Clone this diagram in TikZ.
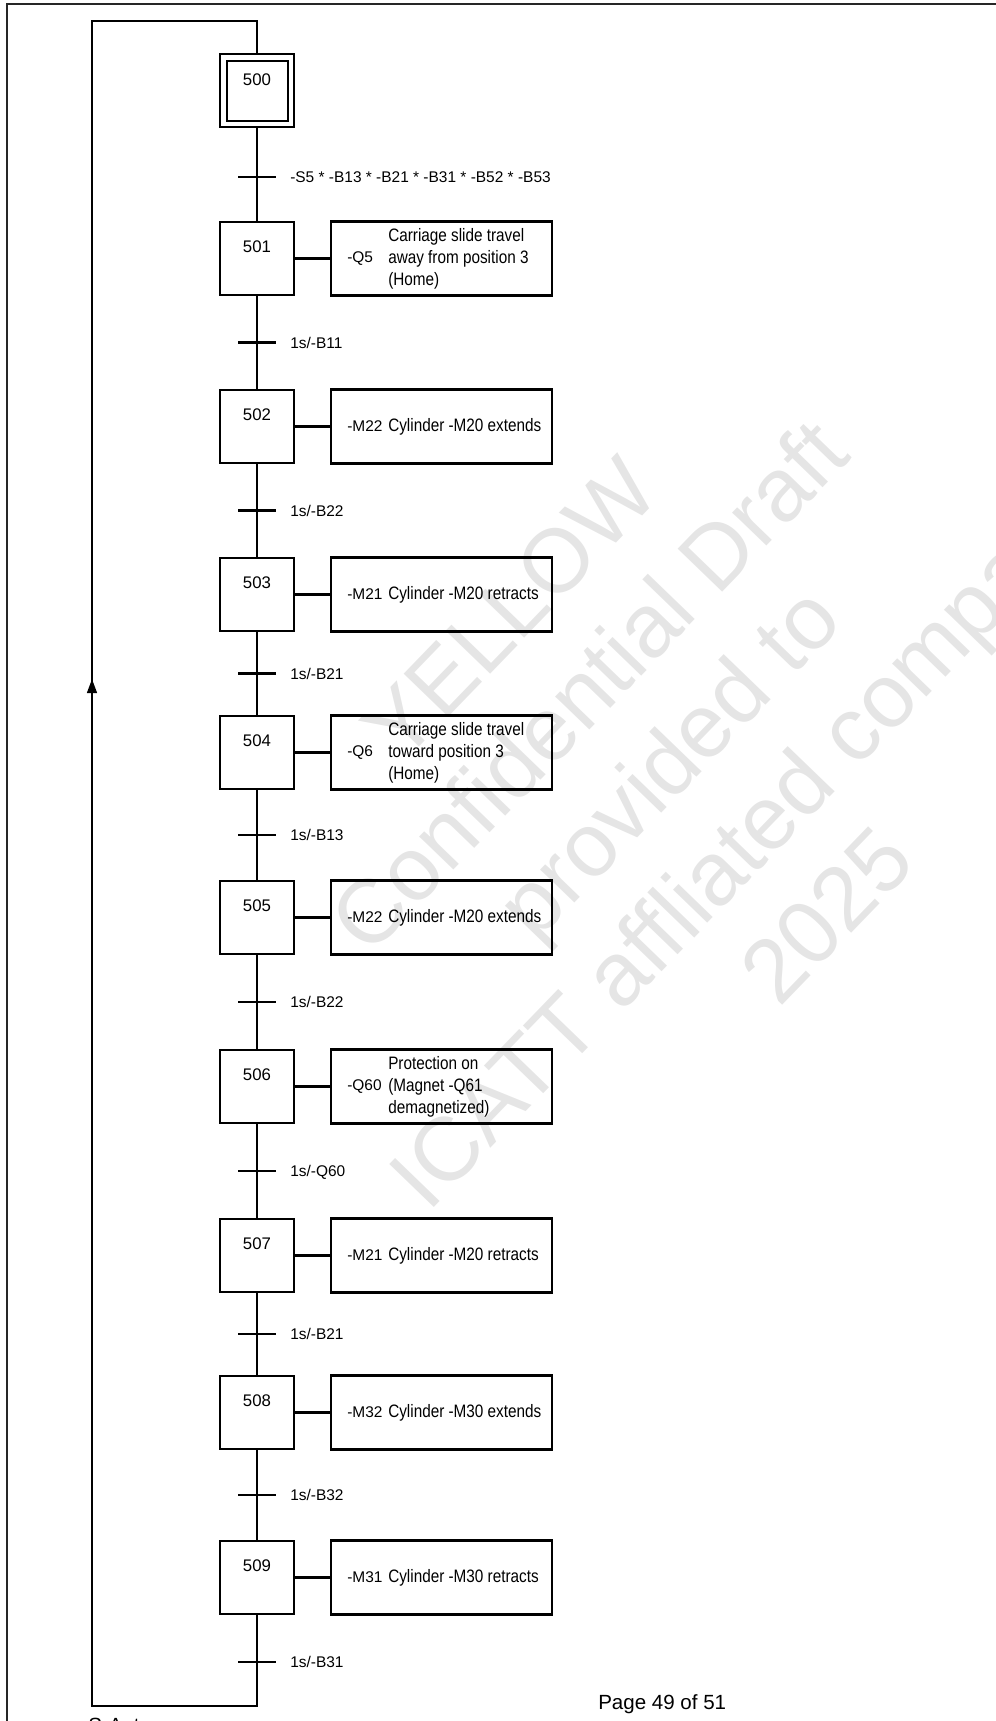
\documentclass[tikz,border=0pt]{standalone}
\usepackage{fontspec}
\setmainfont{Liberation Sans}
\newfontfamily\descfont[FakeStretch=0.85]{Liberation Sans}
\usetikzlibrary{arrows.meta}
\tikzset{
  ln/.style={line width=1.6pt},
  stepbox/.style={draw, line width=1.6pt, minimum width=55.5pt, minimum height=54.75pt, inner sep=0pt},
  initbox/.style={draw, line width=1.5pt, minimum width=45.75pt, minimum height=45pt, inner sep=0pt},
  actbox/.style={draw, line width=1.6pt, minimum width=165.75pt, minimum height=55.5pt, inner sep=0pt},
  numlbl/.style={font=\fontsize{12.6pt}{15pt}\selectfont, inner sep=0pt},
  trlbl/.style={font=\fontsize{11.6pt}{14pt}\selectfont, inner sep=0pt, anchor=base west},
  qlbl/.style={font=\fontsize{11.6pt}{14pt}\selectfont, inner sep=0pt, anchor=west},
  desc/.style={font=\descfont\fontsize{13.5pt}{16.5pt}\selectfont, inner sep=0pt, anchor=west, align=left},
  bar/.style={line width=1.6pt},
  wmark/.style={rotate=46, text=black!10, align=center, font=\fontsize{67.5pt}{82.5pt}\selectfont, inner sep=0pt},
}
\begin{document}
\begin{tikzpicture}[x=0.75pt, y=-0.75pt]
\useasboundingbox (0,0) rectangle (996,1721);
\begin{scope}
\clip (0,0) rectangle (996,1721);
\node[wmark] (wm) at (668,762) {YELLOW\\Confidential Draft\\provided to\\ICATT affliated company\\2025};
\node[font=\fontsize{15.4pt}{18pt}\selectfont, anchor=base west, inner sep=0pt] (sa) at (88,1732) {S-Aut};
\end{scope}
% page border
\draw[line width=1.5pt, black!85] (7,1721) -- (7,3.5) -- (996,3.5);

% steps
\node[stepbox] (s500) at (257,90.5) {};
\node[initbox] (s500i) at (257,90.5) {};
\node[numlbl] (n500) at (257,80) {500};
\node[stepbox] (s501) at (257,258.5) {};
\node[numlbl] (n501) at (257,247) {501};
\node[stepbox] (s502) at (257,426.5) {};
\node[numlbl] (n502) at (257,415) {502};
\node[stepbox] (s503) at (257,594.5) {};
\node[numlbl] (n503) at (257,583) {503};
\node[stepbox] (s504) at (257,752.5) {};
\node[numlbl] (n504) at (257,741) {504};
\node[stepbox] (s505) at (257,917.5) {};
\node[numlbl] (n505) at (257,906) {505};
\node[stepbox] (s506) at (257,1086.5) {};
\node[numlbl] (n506) at (257,1075) {506};
\node[stepbox] (s507) at (257,1255.5) {};
\node[numlbl] (n507) at (257,1244) {507};
\node[stepbox] (s508) at (257,1412.5) {};
\node[numlbl] (n508) at (257,1401) {508};
\node[stepbox] (s509) at (257,1577.5) {};
\node[numlbl] (n509) at (257,1566) {509};

% actions
\node[actbox] (a501) at (441.5,258.5) {};
\node[qlbl] (q501) at (347,258.5) {-Q5};
\node[desc] (d501) at (388,258.5) {Carriage slide travel\\away from position 3\\(Home)};
\node[actbox] (a502) at (441.5,426.5) {};
\node[qlbl] (q502) at (347,426.5) {-M22};
\node[desc] (d502) at (388,426.5) {Cylinder -M20 extends};
\node[actbox] (a503) at (441.5,594.5) {};
\node[qlbl] (q503) at (347,594.5) {-M21};
\node[desc] (d503) at (388,594.5) {Cylinder -M20 retracts};
\node[actbox] (a504) at (441.5,752.5) {};
\node[qlbl] (q504) at (347,752.5) {-Q6};
\node[desc] (d504) at (388,752.5) {Carriage slide travel\\toward position 3\\(Home)};
\node[actbox] (a505) at (441.5,917.5) {};
\node[qlbl] (q505) at (347,917.5) {-M22};
\node[desc] (d505) at (388,917.5) {Cylinder -M20 extends};
\node[actbox] (a506) at (441.5,1086.5) {};
\node[qlbl] (q506) at (347,1086.5) {-Q60};
\node[desc] (d506) at (388,1086.5) {Protection on\\(Magnet -Q61\\demagnetized)};
\node[actbox] (a507) at (441.5,1255.5) {};
\node[qlbl] (q507) at (347,1255.5) {-M21};
\node[desc] (d507) at (388,1255.5) {Cylinder -M20 retracts};
\node[actbox] (a508) at (441.5,1412.5) {};
\node[qlbl] (q508) at (347,1412.5) {-M32};
\node[desc] (d508) at (388,1412.5) {Cylinder -M30 extends};
\node[actbox] (a509) at (441.5,1577.5) {};
\node[qlbl] (q509) at (347,1577.5) {-M31};
\node[desc] (d509) at (388,1577.5) {Cylinder -M30 retracts};

% action links
\foreach \n in {501,...,509}{
  \draw[ln] (s\n.east) -- (a\n.west);
}

% main chain
\draw[ln] (s500.south) -- (s501.north);
\draw[ln] (s501.south) -- (s502.north);
\draw[ln] (s502.south) -- (s503.north);
\draw[ln] (s503.south) -- (s504.north);
\draw[ln] (s504.south) -- (s505.north);
\draw[ln] (s505.south) -- (s506.north);
\draw[ln] (s506.south) -- (s507.north);
\draw[ln] (s507.south) -- (s508.north);
\draw[ln] (s508.south) -- (s509.north);

% transitions
\coordinate (t0) at (257,177);
\coordinate (t1) at (257,342.5);
\coordinate (t2) at (257,510.5);
\coordinate (t3) at (257,673.5);
\coordinate (t4) at (257,835);
\coordinate (t5) at (257,1002);
\coordinate (t6) at (257,1171);
\coordinate (t7) at (257,1334);
\coordinate (t8) at (257,1495);
\coordinate (t9) at (257,1662);
\foreach \t in {0,...,9}{
  \draw[bar] ([xshift=-13.9pt]t\t) -- ([xshift=13.9pt]t\t);
}
\node[trlbl] (l0) at (290,182.5) {-S5 * -B13 * -B21 * -B31 * -B52 * -B53};
\node[trlbl] (l1) at (290,348) {1s/-B11};
\node[trlbl] (l2) at (290,516) {1s/-B22};
\node[trlbl] (l3) at (290,679) {1s/-B21};
\node[trlbl] (l4) at (290,840.5) {1s/-B13};
\node[trlbl] (l5) at (290,1007.5) {1s/-B22};
\node[trlbl] (l6) at (290,1176.5) {1s/-Q60};
\node[trlbl] (l7) at (290,1339.5) {1s/-B21};
\node[trlbl] (l8) at (290,1500.5) {1s/-B32};
\node[trlbl] (l9) at (290,1667.5) {1s/-B31};

% loop back
\coordinate (lb) at (92,1706);
\coordinate (lt) at (92,21);
\coordinate (la) at (92,679);
\draw[ln] (s509.south) -- (s509.south |- lb) -- (lb) -- (lt) -- (lt -| s500.north) -- (s500.north);
\draw[ln, -{Triangle[length=10.5pt,width=7.3pt]}] (lb) -- (la);

% footer
\node[font=\fontsize{15.4pt}{18pt}\selectfont, anchor=base west, inner sep=0pt] (pg) at (598,1709) {Page 49 of 51};
\end{tikzpicture}
\end{document}
